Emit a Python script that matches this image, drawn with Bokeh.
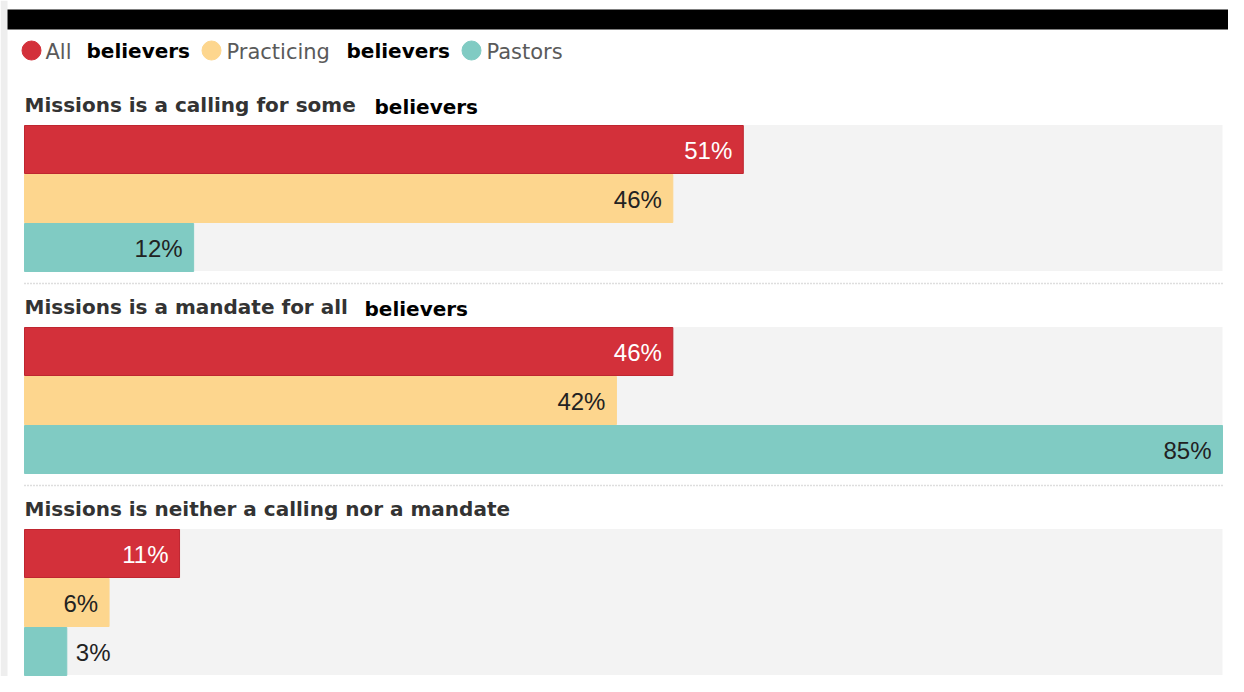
from bokeh.plotting import figure
from bokeh.models import Range1d, ColumnDataSource
from bokeh.core.properties import value
from bokeh.embed import file_html
from bokeh.resources import INLINE

# ---- data ----
groups = ["Missions is a calling for some", "Missions is a mandate for all",
          "Missions is neither a calling nor a mandate"]
group_suffix = ["believers", "believers", ""]
series = ["All believers", "Practicing believers", "Pastors"]
all_believers = [51, 46, 11]
practicing_believers = [46, 42, 6]
pastors = [12, 85, 3]
values = [all_believers, practicing_believers, pastors]
colors = ["#d3303a", "#fdd68e", "#80cbc3"]
border_colors = ["#bf2630", "#fdd68e", "#80cbc3"]
label_colors = ["#ffffff", "#222222", "#222222"]
legend_parts = [("All", "believers"), ("Practicing", "believers"), ("Pastors", "")]
x_max = 85

# ---- layout (px) ----
W, H = 1228, 676
OX, OY = 0, 0
x0_s, x1_s = 24, 1222
k = (x1_s - x0_s) / x_max


def sx(screen_x):
    return (screen_x - x0_s) / k


p = figure(width=W, height=H, output_backend="svg", toolbar_location=None,
           x_range=Range1d(sx(OX), sx(OX + W)), y_range=Range1d(OY + H, OY),
           min_border=0, outline_line_color=None)
p.axis.visible = False
p.grid.visible = False
p.background_fill_color = "#ffffff"
p.border_fill_color = "#ffffff"

# light frame strip at left and black bar at top
p.quad(left=[sx(0)], right=[sx(7)], top=[0], bottom=[H],
       fill_color="#eeeeee", line_color=None)
p.quad(left=[sx(7)], right=[sx(W)], top=[9], bottom=[29],
       fill_color="#000000", line_color=None)

# legend
circle_x = [31, 211, 471]
word1_x = [45, 226, 486]
word2_x = [86, 346, None]
leg_y = 50
for i, (w1, w2) in enumerate(legend_parts):
    p.scatter(x=[sx(circle_x[i])], y=[leg_y], size=19, fill_color=colors[i],
              line_color=colors[i])
    p.text(x=[sx(word1_x[i])], y=[leg_y + 1], text=[w1], text_font=value("DejaVu Sans"),
           text_font_size="21px", text_color="#5a5a5a", text_baseline="middle")
    if w2:
        p.text(x=[sx(word2_x[i])], y=[leg_y], text=[w2], text_font=value("DejaVu Sans"),
               text_font_size="20px", text_font_style="bold", text_color="#000000",
               text_baseline="middle")

top0 = 125
step = 202
bar_h = 49
for g, name in enumerate(groups):
    top = top0 + g * step
    # background
    p.hbar(y=[top + 1.5 * bar_h - 1], left=[0], right=[x_max], height=3 * bar_h - 1,
           fill_color="#f3f3f3", line_color=None)
    # title
    p.text(x=[sx(24)], y=[top - 21], text=[name], text_font=value("DejaVu Sans"),
           text_font_size="20px", text_font_style="bold", text_color="#333333",
           text_baseline="middle")
    if group_suffix[g]:
        sfx_x = [374, 364][g]
        p.text(x=[sx(sfx_x)], y=[top - 19], text=[group_suffix[g]],
               text_font=value("DejaVu Sans"), text_font_size="20px",
               text_font_style="bold", text_color="#000000", text_baseline="middle")
    # separator
    if g < len(groups) - 1:
        p.segment(x0=[0], x1=[x_max], y0=[top + 158], y1=[top + 158],
                  line_color="#bdbdbd", line_width=1.5, line_dash="1 2")
    # bars
    for s in range(len(series)):
        v = values[s][g]
        yc = top + bar_h * s + bar_h / 2 - 0.5
        p.hbar(y=[yc], left=[0], right=[v], height=bar_h - 1,
               fill_color=colors[s], line_color=border_colors[s], line_width=1)
        inside = v >= 5
        src = ColumnDataSource(dict(x=[v], y=[yc + 1], t=[f"{v}%"]))
        p.text(x="x", y="y", text="t", source=src,
               x_offset=-11 if inside else 9,
               text_align="right" if inside else "left", text_baseline="middle",
               text_font=value("Liberation Sans"), text_font_size="24px",
               text_color=label_colors[s] if inside else "#222222")

open("out.html", "w").write(file_html(p, INLINE))
